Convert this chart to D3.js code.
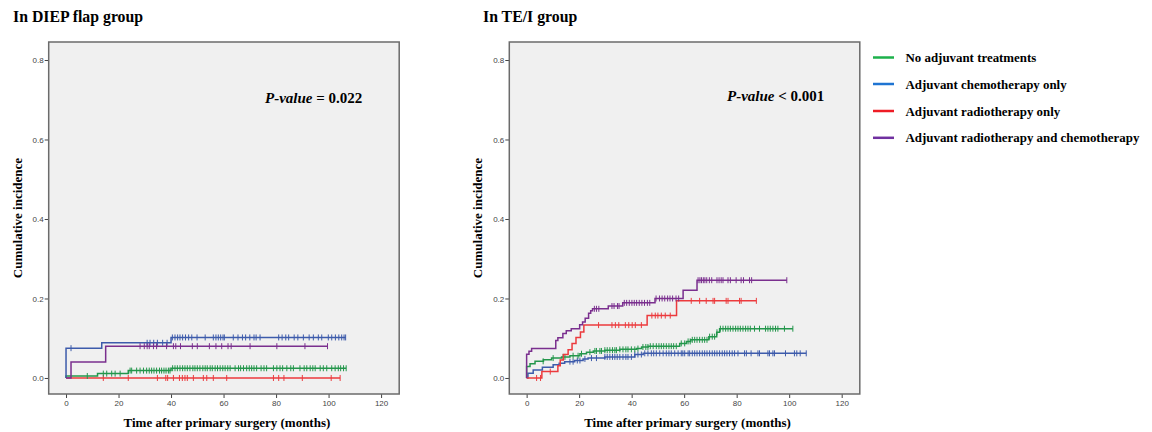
<!DOCTYPE html>
<html>
<head>
<meta charset="utf-8">
<script src="https://cdn.jsdelivr.net/npm/d3@7"></script>
<style>
  body { margin: 0; background: #fff; }
  svg { display: block; }
</style>
</head>
<body>
<div id="chart"></div>
<script>
// groups, in legend order
const groups = ["No adjuvant treatments", "Adjuvant chemotherapy only",
  "Adjuvant radiotherapy only", "Adjuvant radiotherapy and chemotherapy"];
const lineColors = ["#23964b", "#3d5bab", "#ec3a3d", "#7a2f8e"];
const legendColors = ["#1db14b", "#1f74d2", "#ee1c25", "#7030a0"];

const xTicks = [0, 20, 40, 60, 80, 100, 120];
const yTicks = [0.0, 0.2, 0.4, 0.6, 0.8];

// DIEP flap group: step points [time, cumulative incidence]
const diepNone = [[0, 0], [0, 0.005], [12, 0.011], [23.7, 0.0186], [40, 0.0245]];
const diepChemo = [[0, 0], [0, 0.075], [13.6, 0.0886], [40, 0.102]];
const diepRadio = [[0, 0]];
const diepBoth = [[0, 0], [1.9, 0.0405], [15.1, 0.080]];
const diepEnds = [106.7, 106.5, 104.4, 99.7];

// DIEP censored times
const diepNoneCens = [8.1, 14.2, 15.5, 17.4, 18.7, 20.6, 24.4, 25, 26.9, 28.2, 29.5, 30.7, 31.7, 32.6, 33.5, 34.5,
  35.6, 36.4, 37.3, 38.1, 39, 39.6, 40.6, 41.5, 42.4, 43.4, 44.4, 45.3, 46.2, 47.2, 48.3, 49.1, 50, 51, 52.1, 53,
  53.8, 54.9, 55.7, 56.8, 57.7, 58.7, 59.7, 60.6, 61.6, 62.5, 64.4, 65.7, 66.5, 67.6, 68.8, 69.8, 70.7, 71.6, 72.6,
  74.3, 75.4, 76.4, 79, 80.3, 81.5, 82.5, 84.1, 85.6, 86.6, 89.1, 90.7, 91.7, 93, 94, 94.9, 96.8, 98, 99.3, 101.2,
  102.5, 103.7, 104.6, 105.7, 106.7];
const diepChemoCens = [1.9, 30.9, 32, 33.4, 34.8, 36.8, 38.5, 40.5, 41.5, 42.5, 43.4, 44.4, 45.5, 46.7, 47.9, 49.9,
  53, 56.1, 57.1, 58, 58.9, 59.8, 60.3, 63.7, 65.5, 67.2, 68.4, 70, 71.6, 72.4, 73.9, 81, 82.3, 83.7, 84.8, 86.9,
  88.3, 90.4, 92.6, 94.2, 96.1, 97.4, 99.9, 101.2, 102.6, 103.9, 105, 105.9, 106.5];
const diepRadioCens = [14.2, 23.7, 34.8, 38, 38.7, 40.9, 43.2, 44.3, 45.3, 46.2, 48.5, 52.3, 53.6, 56.1, 61.2, 79,
  81, 83, 90, 101, 104.4];
const diepBothCens = [28.2, 29.8, 30.9, 31.7, 33.3, 34.5, 38.3, 40.9, 41.8, 43.6, 48.1, 50, 54.6, 57.1, 59.3, 61.7,
  62.9, 70.1, 80.3, 91, 99.6];

// TE/I group: step points [time, cumulative incidence]
const teiNone = [[0, 0], [0, 0.029], [1.3, 0.036], [3.2, 0.042], [6.4, 0.046], [9.5, 0.050], [13.3, 0.053],
  [16.5, 0.056], [20.3, 0.061], [22.8, 0.065], [25.4, 0.068], [29.8, 0.070], [35.5, 0.072], [41.9, 0.074],
  [43.8, 0.078], [46.3, 0.080], [58.3, 0.087], [60.9, 0.092], [62.5, 0.096], [69.4, 0.104], [72.4, 0.115],
  [73.5, 0.124]];
const teiChemo = [[0, 0], [0.5, 0.012], [2.5, 0.020], [6.0, 0.027], [10.1, 0.033], [12.4, 0.037], [14.5, 0.041],
  [18.3, 0.044], [21.5, 0.048], [23.4, 0.050], [29.8, 0.053], [41.2, 0.059], [44.4, 0.062]];
const teiRadio = [[0, 0], [5.8, 0.016], [11.9, 0.031], [12.8, 0.045], [14.0, 0.059], [15.8, 0.071], [17.3, 0.087],
  [18.8, 0.102], [20.5, 0.116], [21.8, 0.133], [45.9, 0.157], [57.1, 0.194]];
const teiBoth = [[0, 0], [0, 0.06], [0.9, 0.067], [1.9, 0.074], [11.1, 0.094], [11.9, 0.101], [13.8, 0.112],
  [15.1, 0.119], [17, 0.124], [20.2, 0.134], [21.3, 0.141], [22.3, 0.150], [23.6, 0.163], [24.4, 0.169],
  [25.1, 0.174], [31.1, 0.181], [36.6, 0.189], [48.9, 0.200], [59.6, 0.221], [64.9, 0.246]];
const teiEnds = [101.4, 106.5, 87.5, 99.1];

// TE/I censored times
const teiNoneCens = [6.3, 10.1, 13.9, 14.6, 17.7, 19.6, 20.9, 24.1, 26, 26.6, 27.9, 28.5, 29.8, 30.7, 31.7, 32.7,
  33.6, 34.2, 35.5, 36.7, 37.8, 38.6, 39.9, 41.2, 42.4, 44.3, 45.4, 46.2, 47.1, 48.2, 49.4, 50.4, 51.3, 52.2, 53.2,
  54.2, 55.1, 56, 57, 58.9, 60.2, 61.5, 62.3, 63.1, 64, 64.9, 65.9, 66.9, 67.8, 68.7, 69.7, 70.7, 71.6, 72.5, 73.8,
  74.8, 75.8, 76.7, 77.6, 78.6, 79.6, 80.5, 81.4, 82.4, 83.4, 84.3, 85.2, 86.8, 88.7, 91, 91.9, 92.8, 93.8, 94.8,
  95.7, 98.2, 101.4];
const teiChemoCens = [16.5, 17.7, 19.3, 20.3, 22.2, 24.7, 26.6, 29.8, 30.7, 31.7, 32.7, 33.6, 34.5, 35.5, 36.7,
  37.8, 38.6, 39.9, 41.2, 42.4, 43.7, 45, 46.2, 47.5, 48.4, 49.4, 50.7, 52, 53.2, 54.2, 55.1, 56.4, 57.7, 58.9, 59.5,
  60.2, 61.5, 62.1, 63.1, 64, 64.9, 65.9, 66.9, 67.8, 68.7, 69.7, 70.7, 71.6, 72.5, 73.5, 74.5, 75.4, 76.3, 77.3,
  78.3, 79.2, 80.5, 83, 83.7, 85.5, 88.1, 88.7, 91.9, 92.5, 93.8, 94.4, 98.6, 102, 102.9, 104.2, 106.5];
const teiRadioCens = [3.8, 5.3, 9.0, 27.4, 32.5, 33.8, 35.1, 37.6, 38.9, 40.2, 41.4, 43.7, 47.7, 49, 50, 51.3, 52.8,
  54.7, 62.7, 65.9, 68.4, 71, 71.6, 76, 76.7, 81.1, 81.7, 87.5];
const teiBothCens = [25.8, 26.6, 27.5, 32.5, 33.3, 34.6, 35.2, 37.2, 38.1, 39.1, 40.1, 41, 41.9, 42.9, 43.9, 44.9,
  46, 46.9, 49.3, 50.6, 51.6, 52.6, 53.7, 54.6, 55.6, 56.9, 57.9, 65.3, 66, 66.6, 67.3, 67.9, 68.6, 69.6, 70.5,
  72.5, 73.3, 74.1, 74.8, 76.7, 77.6, 79.8, 81.7, 82.6, 84.9, 85.7, 99.1];

const W = 1152, H = 432;
const svg = d3.select("#chart").append("svg")
  .attr("width", W).attr("height", H)
  .attr("font-family", "'Liberation Serif', 'Times New Roman', serif");

const panels = [
  { title: "In DIEP flap group", left: 48.7, titleX: 13, p: "= 0.022", pX: 265, pY: 103,
    steps: [diepNone, diepChemo, diepRadio, diepBoth], ends: diepEnds,
    cens: [diepNoneCens, diepChemoCens, diepRadioCens, diepBothCens], order: [2, 0, 1, 3] },
  { title: "In TE/I group", left: 509.3, titleX: 483, p: "< 0.001", pX: 727, pY: 101,
    steps: [teiNone, teiChemo, teiRadio, teiBoth], ends: teiEnds,
    cens: [teiNoneCens, teiChemoCens, teiRadioCens, teiBothCens], order: [1, 0, 2, 3] }
];

const plotTop = 42, plotBottom = 394, pw = 350.5;

panels.forEach(function (pn) {
  const x = d3.scaleLinear().domain([-6.6, 126.9]).range([pn.left, pn.left + pw]);
  const y = d3.scaleLinear().domain([-0.0403, 0.8453]).range([plotBottom, plotTop]);

  // title
  svg.append("text")
    .attr("x", pn.titleX).attr("y", 22)
    .attr("font-size", 15.8).attr("font-weight", "bold")
    .text(pn.title);

  // plot background
  svg.append("rect")
    .attr("x", pn.left).attr("y", plotTop)
    .attr("width", pw).attr("height", plotBottom - plotTop)
    .attr("fill", "#f0f0f0");

  // axes
  const xa = svg.append("g")
    .attr("transform", "translate(0," + plotBottom + ")")
    .call(d3.axisBottom(x).tickValues(xTicks).tickSize(4).tickPadding(2).tickFormat(d3.format("d")));
  const ya = svg.append("g")
    .attr("transform", "translate(" + pn.left + ",0)")
    .call(d3.axisLeft(y).tickValues(yTicks).tickSize(4).tickPadding(1).tickFormat(d3.format(".1f")));
  [xa, ya].forEach(function (a) {
    a.select(".domain").remove();
    a.selectAll("line").attr("stroke", "#444");
    a.selectAll("text").attr("font-family", "'Liberation Sans', Arial, sans-serif")
      .attr("font-size", 8).attr("fill", "#444");
  });

  // frame
  svg.append("rect")
    .attr("x", pn.left).attr("y", plotTop)
    .attr("width", pw).attr("height", plotBottom - plotTop)
    .attr("fill", "none").attr("stroke", "#6b6b6b").attr("stroke-width", 1.5);

  // axis labels
  svg.append("text")
    .attr("x", pn.left + pw / 2 + 3).attr("y", 427)
    .attr("text-anchor", "middle").attr("font-size", 13).attr("font-weight", "bold")
    .text("Time after primary surgery (months)");
  svg.append("text")
    .attr("transform", "translate(" + (pn.left - 27) + "," + 218 + ") rotate(-90)")
    .attr("text-anchor", "middle").attr("font-size", 13).attr("font-weight", "bold")
    .text("Cumulative incidence");

  // p-value
  const pt = svg.append("text")
    .attr("x", pn.pX).attr("y", pn.pY)
    .attr("font-size", 15).attr("font-weight", "bold");
  pt.append("tspan").attr("font-style", "italic").text("P-value");
  pt.append("tspan").text(" " + pn.p);

  const line = d3.line()
    .x(function (d) { return x(d[0]); })
    .y(function (d) { return y(d[1]); })
    .curve(d3.curveStepAfter);

  pn.order.forEach(function (g) {
    const st = pn.steps[g];
    const last = st[st.length - 1][1];
    const pts = st.concat([[pn.ends[g], last]]);
    svg.append("path")
      .attr("d", line(pts))
      .attr("fill", "none")
      .attr("stroke", lineColors[g])
      .attr("stroke-width", 1.5);

    // value of the curve at time t
    const valAt = function (t) {
      let v = 0;
      st.forEach(function (d) { if (d[0] <= t) v = d[1]; });
      return v;
    };
    svg.append("g").selectAll("line")
      .data(pn.cens[g])
      .enter().append("line")
      .attr("x1", function (d) { return x(d); })
      .attr("x2", function (d) { return x(d); })
      .attr("y1", function (d) { return y(valAt(d)) - 3; })
      .attr("y2", function (d) { return y(valAt(d)) + 3; })
      .attr("stroke", lineColors[g])
      .attr("stroke-width", 1);
  });
});

// legend
const leg = svg.append("g");
const legY = [57.5, 84, 111, 137.8];
groups.forEach(function (name, i) {
  leg.append("line")
    .attr("x1", 873).attr("x2", 894)
    .attr("y1", legY[i]).attr("y2", legY[i])
    .attr("stroke", legendColors[i]).attr("stroke-width", 2.5);
  leg.append("text")
    .attr("x", 905.5).attr("y", legY[i] + 4.5)
    .attr("font-size", 12.9).attr("font-weight", "bold")
    .text(name);
});
</script>
</body>
</html>
